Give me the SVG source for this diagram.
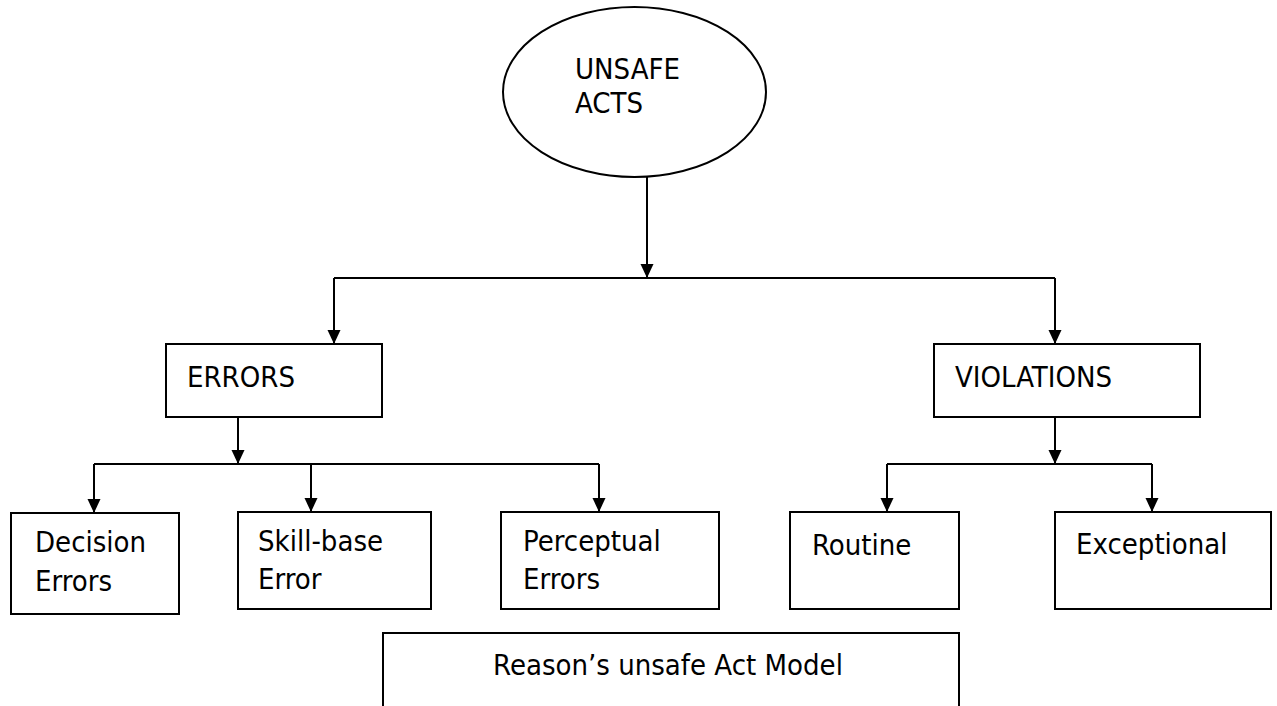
<svg xmlns="http://www.w3.org/2000/svg" width="1277" height="706" viewBox="0 0 1277 706">
<style>
.shape{fill:#fff;stroke:#000;stroke-width:2}
.lbl{font-family:"DejaVu Sans Condensed","DejaVu Sans",sans-serif;font-stretch:condensed;font-size:29px;fill:#000}
.wire{fill:none;stroke:#000;stroke-width:2}
</style>
<defs>
<marker id="arr" markerUnits="userSpaceOnUse" markerWidth="14" markerHeight="14" refX="14" refY="7" orient="auto">
<path d="M0,0.5 L14,7 L0,13.5 z" fill="#000"/>
</marker>
</defs>
<rect width="1277" height="706" fill="#fff"/>
<g id="connectors">
<path class="wire" d="M647,177 V278" marker-end="url(#arr)"/>
<path class="wire" d="M334,278 H1055"/>
<path class="wire" d="M334,278 V344" marker-end="url(#arr)"/>
<path class="wire" d="M1055,278 V344" marker-end="url(#arr)"/>
<path class="wire" d="M238,417 V464" marker-end="url(#arr)"/>
<path class="wire" d="M94,464 H599"/>
<path class="wire" d="M94,464 V513" marker-end="url(#arr)"/>
<path class="wire" d="M311,464 V512" marker-end="url(#arr)"/>
<path class="wire" d="M599,464 V512" marker-end="url(#arr)"/>
<path class="wire" d="M1055,417 V464" marker-end="url(#arr)"/>
<path class="wire" d="M887,464 H1152"/>
<path class="wire" d="M887,464 V512" marker-end="url(#arr)"/>
<path class="wire" d="M1152,464 V512" marker-end="url(#arr)"/>
</g>
<g id="unsafe-acts">
<ellipse class="shape" cx="634.5" cy="92" rx="131.5" ry="85"/>
<text class="lbl" x="575" y="79">UNSAFE</text>
<text class="lbl" x="575" y="113">ACTS</text>
</g>
<g id="errors">
<rect class="shape" x="166" y="344" width="216" height="73"/>
<text class="lbl" x="187" y="387">ERRORS</text>
</g>
<g id="violations">
<rect class="shape" x="934" y="344" width="266" height="73"/>
<text class="lbl" x="955" y="387">VIOLATIONS</text>
</g>
<g id="decision-errors">
<rect class="shape" x="11" y="513" width="168" height="101"/>
<text class="lbl" x="35" y="552">Decision</text>
<text class="lbl" x="35" y="591">Errors</text>
</g>
<g id="skill-base-error">
<rect class="shape" x="238" y="512" width="193" height="97"/>
<text class="lbl" x="258" y="551">Skill-base</text>
<text class="lbl" x="258" y="589">Error</text>
</g>
<g id="perceptual-errors">
<rect class="shape" x="501" y="512" width="218" height="97"/>
<text class="lbl" x="523" y="551">Perceptual</text>
<text class="lbl" x="523" y="589">Errors</text>
</g>
<g id="routine">
<rect class="shape" x="790" y="512" width="169" height="97"/>
<text class="lbl" x="812" y="555">Routine</text>
</g>
<g id="exceptional">
<rect class="shape" x="1055" y="512" width="216" height="97"/>
<text class="lbl" x="1076" y="554">Exceptional</text>
</g>
<g id="caption">
<rect class="shape" x="383" y="633" width="576" height="90"/>
<text class="lbl" x="668" y="675" text-anchor="middle">Reason’s unsafe Act Model</text>
</g>
</svg>
